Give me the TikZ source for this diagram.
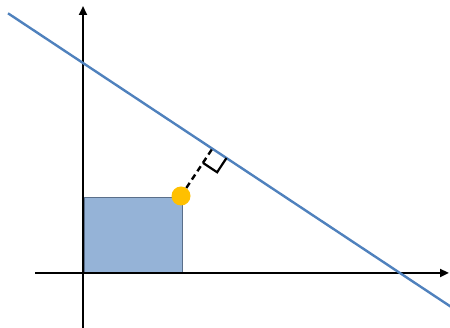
\documentclass[tikz,border=0pt]{standalone}
\usetikzlibrary{arrows.meta,calc}
\definecolor{lineblue}{HTML}{4F81BD}
\definecolor{fillblue}{HTML}{95B3D7}
\definecolor{edgeblue}{HTML}{5A6F8A}
\definecolor{dotorange}{HTML}{FFC000}
\begin{document}
\begin{tikzpicture}[x=1pt,y=-1pt,
  axis/.style={line width=2.4pt,black,-{Triangle[length=9pt,width=8pt]}},
  mainline/.style={line width=2.4pt,lineblue},
  square/.style={fill=fillblue,draw=edgeblue,line width=1pt},
  perp/.style={line width=2.4pt,black,dash pattern=on 6pt off 4pt},
  marker/.style={line width=2.2pt,black},
  dotstyle/.style={circle,fill=dotorange,minimum size=19pt,inner sep=0pt}]
\useasboundingbox (0,0) rectangle (450,328);
% rectangle
\draw[square] (84,198) rectangle (182,273);
% axes
\coordinate (yb) at (83,328);
\coordinate (yt) at (83,6);
\coordinate (xl) at (35,273);
\coordinate (xr) at (449,273);
\draw[axis] (yb) -- (yt);
\draw[axis] (xl) -- (xr);
% main line
\coordinate (A) at (8,13.3);
\coordinate (B) at (452,307.5);
\draw[mainline] (A) -- (B);
% point and perpendicular
\node[dotstyle] (P) at (181,196) {};
\coordinate (F) at ($(A)!(P.center)!(B)$);
\draw[perp] (P) -- (F);
\coordinate (M1) at ($(F)!17pt!(P.center)$);
\coordinate (M2) at ($(F)!17pt!(B)$);
\coordinate (C) at ($(M1)+(M2)-(F)$);
\draw[marker] (M1) -- (C) -- (M2);
\end{tikzpicture}
\end{document}
